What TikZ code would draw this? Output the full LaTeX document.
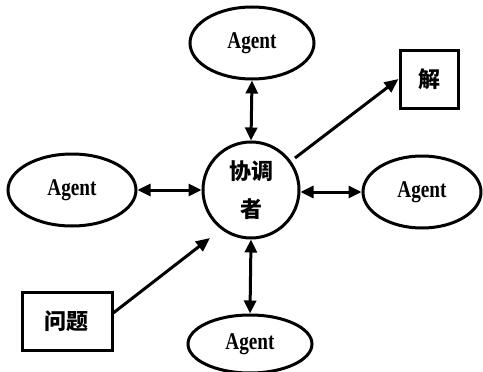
\documentclass[tikz,border=0pt]{standalone}
\usepackage{fontspec}
\setmainfont{Liberation Serif}
\newfontfamily\agentfont{Liberation Serif}[FakeStretch=0.8]
\newfontfamily\cjk{Noto Sans CJK SC}
\usetikzlibrary{shapes.geometric,arrows.meta}
\tikzset{
  agent/.style={draw, ellipse, line width=3pt, inner sep=0pt, font=\fontsize{24}{26}\agentfont\bfseries},
  hub/.style={draw, circle, line width=3pt, inner sep=0pt, minimum size=96pt, align=center, font=\fontsize{22}{38}\selectfont\cjk\bfseries},
  sbox/.style={draw, rectangle, line width=3pt, inner sep=0pt, font=\fontsize{22}{24}\selectfont\cjk\bfseries},
  link/.style={line width=3pt, {Triangle[length=13pt,width=12pt]}-{Triangle[length=13pt,width=12pt]}},
  flow/.style={line width=3pt, -{Triangle[length=14pt,width=12pt]}}
}
\begin{document}
\begin{tikzpicture}[x=1pt,y=-1pt]
\useasboundingbox (0,0) rectangle (483,372);
\node[hub] (C) at (251,190) {协调\\者};
\node[agent, minimum width=124pt, minimum height=72pt] (AT) at (252,43) {Agent};
\node[agent, minimum width=128pt, minimum height=72pt] (AL) at (72,190) {Agent};
\node[agent, minimum width=118pt, minimum height=72pt] (AR) at (422,192) {Agent};
\node[agent, minimum width=124pt, minimum height=58pt] (AB) at (250,344) {Agent};
\node[sbox, minimum width=58pt, minimum height=58pt] (S) at (429,79) {解};
\node[sbox, minimum width=90pt, minimum height=58pt] (Q) at (67,321) {问题};
\coordinate (qt) at (210,238);
\coordinate (ss) at (295,158);
\draw[link] (AT.south) -- (C.north);
\draw[link] (AB.north) -- (C.south);
\draw[link] (AL.east) -- (C.west);
\draw[link] (AR.west) -- (AR.west -| C.east);
\draw[flow] (Q.10) -- (qt);
\draw[flow] (ss) -- (S.west);
\end{tikzpicture}
\end{document}
